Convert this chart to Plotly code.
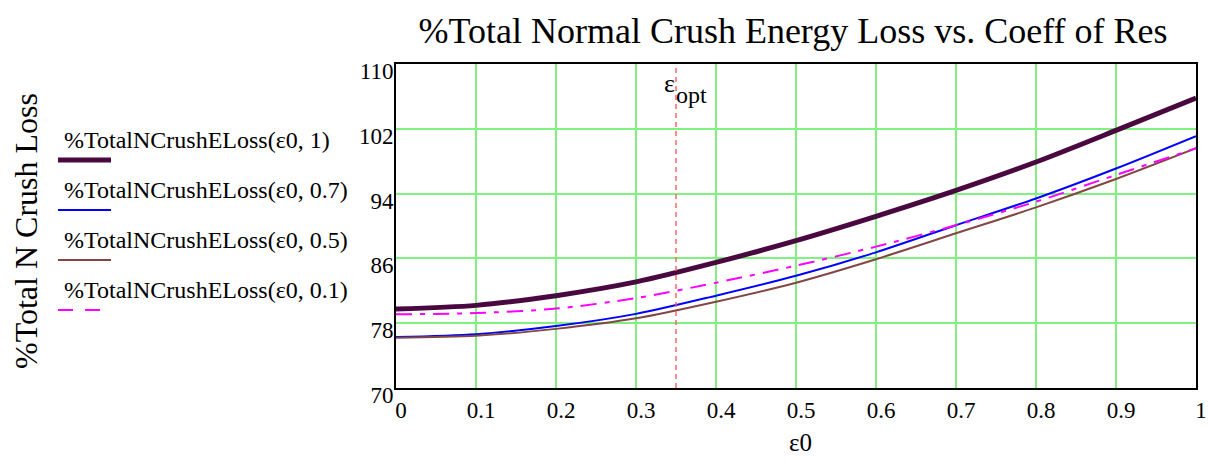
import plotly.graph_objects as go

# ---- data ----
eps0 = [0, 0.1, 0.2, 0.3, 0.4, 0.5, 0.6, 0.7, 0.8, 0.9, 1.0]
loss_1 = [79.75, 80.2, 81.4, 83.1, 85.5, 88.2, 91.2, 94.4, 97.9, 101.8, 105.8]
loss_07 = [76.3, 76.65, 77.65, 79.15, 81.4, 83.85, 86.75, 90.1, 93.4, 97.1, 101.1]
loss_05 = [76.2, 76.45, 77.3, 78.6, 80.65, 83.0, 85.9, 89.1, 92.3, 95.8, 99.6]
loss_01 = [79.1, 79.25, 79.8, 81.1, 83.0, 85.1, 87.45, 90.1, 93.0, 96.3, 99.6]
eps_opt = 0.35
series_names = [
    "%TotalNCrushELoss(\u03b50, 1)",
    "%TotalNCrushELoss(\u03b50, 0.7)",
    "%TotalNCrushELoss(\u03b50, 0.5)",
    "%TotalNCrushELoss(\u03b50, 0.1)",
]
x_ticks = [0, 0.1, 0.2, 0.3, 0.4, 0.5, 0.6, 0.7, 0.8, 0.9, 1]
x_tick_text = ["0", "0.1", "0.2", "0.3", "0.4", "0.5", "0.6", "0.7", "0.8", "0.9", "1"]
y_ticks = [70, 78, 86, 94, 102, 110]

FONT = "Liberation Serif, Times New Roman, serif"
styles = [
    dict(color="#4a0840", width=5, dash="solid"),
    dict(color="#0000ff", width=2, dash="solid"),
    dict(color="#834646", width=2, dash="solid"),
    dict(color="#ff00ff", width=2, dash="16px,8px,5px,8px"),
]
series = [loss_1, loss_07, loss_05, loss_01]

fig = go.Figure()
for name, ys, st in zip(series_names, series, styles):
    fig.add_trace(go.Scatter(x=eps0, y=ys, mode="lines", name=name,
                             line=dict(shape="spline", smoothing=0.8, **st),
                             showlegend=False))

# vertical eps_opt line
fig.add_trace(go.Scatter(x=[eps_opt, eps_opt], y=[70, 110], mode="lines",
                         line=dict(color="#ff5c5c", width=1.4, dash="5px,4px"),
                         showlegend=False, hoverinfo="skip"))

L, R, T, B = 396, 12, 64, 72
W, H = 1208, 460
pw, ph = W - L - R, H - T - B


def px2paper(px, py):
    return (px - L) / pw, (H - B - py) / ph


annotations = []
shapes = []
# custom legend: text above a line sample
text_y = [140, 190, 240, 290]
line_y = [160, 210, 260, 310]
for name, st, ty, ly in zip(series_names, styles, text_y, line_y):
    xp, yp = px2paper(62, ty)
    annotations.append(dict(x=xp, y=yp, xref="paper", yref="paper", text=name,
                            showarrow=False, xanchor="left", yanchor="middle",
                            font=dict(family=FONT, size=24, color="black")))
    x0, y0 = px2paper(58, ly)
    x1, _ = px2paper(111, ly)
    shapes.append(dict(type="line", xref="paper", yref="paper", x0=x0, x1=x1, y0=y0, y1=y0,
                       line=dict(color=st["color"], width=st["width"],
                                 dash=st["dash"] if st["dash"] == "solid" else "15px,12px")))

# eps_opt label
xp, yp = px2paper(669, 83)
annotations.append(dict(x=xp, y=yp, xref="paper", yref="paper",
                        text="\u03b5", showarrow=False,
                        xanchor="center", yanchor="middle",
                        font=dict(family=FONT, size=26, color="black")))
xp, yp = px2paper(674, 95)
annotations.append(dict(x=xp, y=yp, xref="paper", yref="paper",
                        text="opt", showarrow=False,
                        xanchor="left", yanchor="middle",
                        font=dict(family=FONT, size=24, color="black")))
# y-axis title
xp, yp = px2paper(26, 231)
annotations.append(dict(x=xp, y=yp, xref="paper", yref="paper",
                        text="%Total N Crush Loss", showarrow=False, textangle=-90,
                        xanchor="center", yanchor="middle",
                        font=dict(family=FONT, size=32, color="black")))
# x-axis title
xp, yp = px2paper(800, 442)
annotations.append(dict(x=xp, y=yp, xref="paper", yref="paper",
                        text="\u03b50", showarrow=False,
                        xanchor="center", yanchor="middle",
                        font=dict(family=FONT, size=25, color="black")))

fig.update_layout(
    width=W, height=H,
    margin=dict(l=L, r=R, t=T, b=B, autoexpand=False),
    paper_bgcolor="white", plot_bgcolor="white",
    title=dict(text="%Total Normal Crush Energy Loss vs. Coeff of Res",
               x=793 / W, xanchor="center", y=1 - 30 / H, yanchor="middle",
               font=dict(family=FONT, size=36, color="black")),
    font=dict(family=FONT, color="black"),
    annotations=annotations, shapes=shapes,
    showlegend=False,
)
fig.update_xaxes(range=[0, 1], tickvals=x_ticks, ticktext=x_tick_text,
                 showgrid=True, gridcolor="#80f080", gridwidth=2,
                 showline=True, linecolor="black", linewidth=2, mirror=True,
                 zeroline=False, ticks="", ticklabelshift=5, automargin=False,
                 tickfont=dict(family=FONT, size=23, color="black"))
fig.update_yaxes(range=[70, 110], tickvals=y_ticks,
                 showgrid=True, gridcolor="#80f080", gridwidth=2,
                 showline=True, linecolor="black", linewidth=2, mirror=True,
                 zeroline=False, ticks="", ticklabelshift=7, ticklabelstandoff=-4,
                 automargin=False,
                 tickfont=dict(family=FONT, size=23, color="black"))

fig.write_html("out.html")
